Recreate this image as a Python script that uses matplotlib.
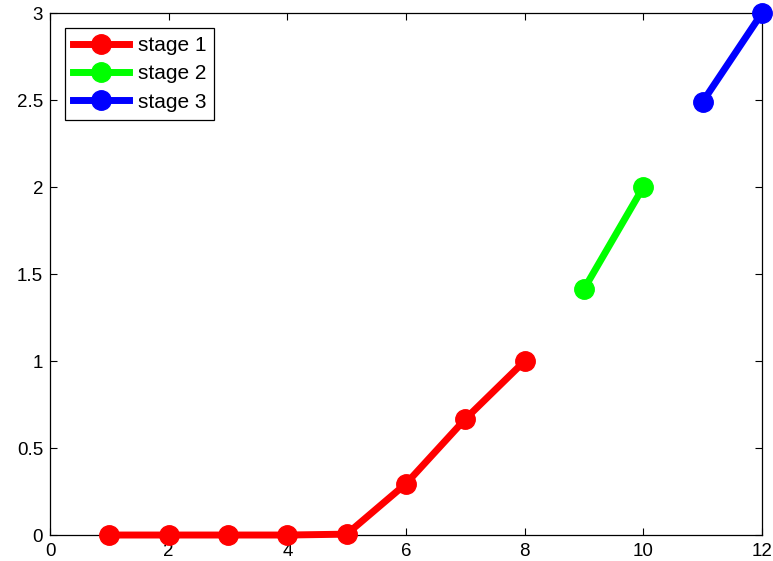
import matplotlib
matplotlib.use('Agg')
import matplotlib.pyplot as plt

plt.rcParams['font.family'] = ['Liberation Sans', 'DejaVu Sans']

# data
x1 = [1, 2, 3, 4, 5, 6, 7, 8]
y1 = [0, 0, 0, 0, 0.005, 0.295, 0.667, 1.0]
x2 = [9, 10]
y2 = [1.414, 2.0]
x3 = [11, 12]
y3 = [2.49, 3.0]
labels = ['stage 1', 'stage 2', 'stage 3']
colors = ['#ff0000', '#00ff00', '#0000ff']

fig = plt.figure(figsize=(7.73, 5.61), dpi=100)
ax = fig.add_axes([0.0647, 0.0463, 0.9211, 0.9305])

for xs, ys, lab, c in zip([x1, x2, x3], [y1, y2, y3], labels, colors):
    ax.plot(xs, ys, '-o', color=c, lw=5, markersize=14, label=lab, clip_on=False, zorder=3)

ax.set_xlim(0, 12)
ax.set_ylim(0, 3)
ax.set_xticks(range(0, 13, 2))
ax.set_yticks([0, 0.5, 1, 1.5, 2, 2.5, 3])
ax.set_yticklabels(['0', '0.5', '1', '1.5', '2', '2.5', '3'])
ax.tick_params(direction='in', top=True, right=True, labelsize=13.5, length=5, width=0.8)
ax.tick_params(axis='x', pad=6)
ax.tick_params(axis='y', pad=5)
for s in ax.spines.values():
    s.set_linewidth(0.9)

leg = ax.legend(loc='upper left', fontsize=15, handlelength=2.7, fancybox=False,
                framealpha=1, edgecolor='black', borderaxespad=0.7, labelspacing=0.45,
                handletextpad=0.4, borderpad=0.4)
leg.get_frame().set_linewidth(0.9)

plt.savefig('out.png', dpi=100)
